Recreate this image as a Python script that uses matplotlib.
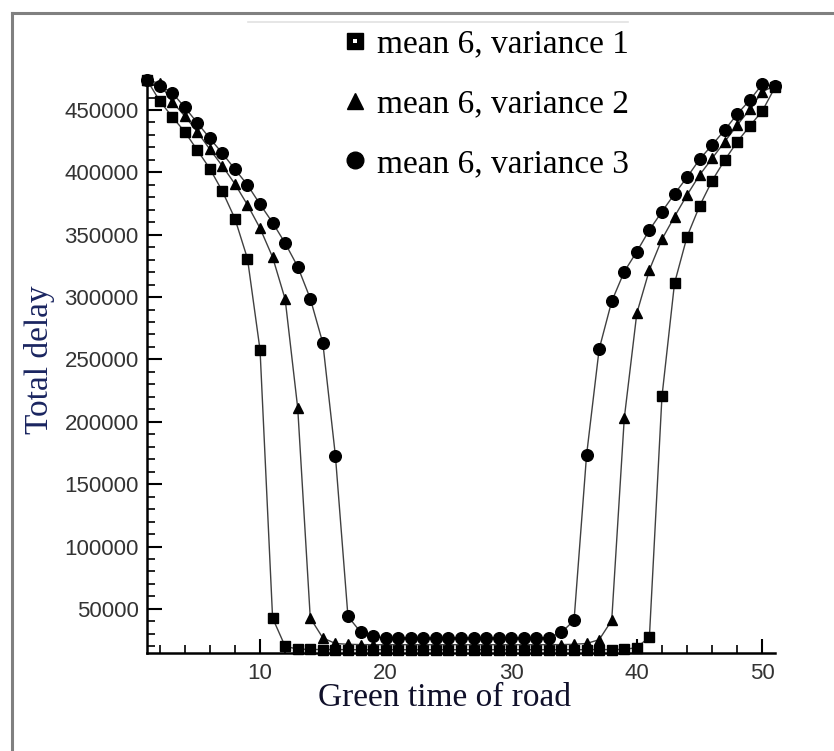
import matplotlib
matplotlib.use("Agg")
import matplotlib.pyplot as plt
from matplotlib.lines import Line2D
from matplotlib.legend_handler import HandlerTuple
from matplotlib.ticker import MultipleLocator, FixedLocator, FormatStrFormatter
import numpy as np

green_time = list(range(1, 52))

var1 = [474000, 457450, 444600, 432600, 417900, 403000, 384900, 362900, 330800, 257700,
        42700, 19950, 17800, 17500, 17400, 17400, 17300, 17300, 17300, 17300,
        17300, 17300, 17300, 17300, 17300, 17300, 17300, 17300, 17300, 17300,
        17300, 17300, 17300, 17300, 17300, 17300, 17400, 17400, 17500, 19000,
        27500, 220300, 311100, 348500, 373100, 393400, 409900, 424600, 437200, 449400,
        468200]

var2 = [474000, 471400, 456700, 445200, 432600, 418500, 405100, 390700, 373900, 355200,
        332000, 298300, 211000, 42700, 26700, 22300, 21600, 21400, 21300, 21300,
        21300, 21300, 21300, 21300, 21300, 21300, 21300, 21300, 21300, 21300,
        21300, 21300, 21300, 21400, 21600, 22300, 25300, 40800, 202900, 287100,
        321800, 346400, 364500, 381900, 397900, 411300, 424600, 438000, 450600, 464700,
        469500]

var3 = [474000, 469500, 463900, 452200, 439800, 427300, 415300, 402500, 389900, 374400,
        359700, 343200, 324400, 298800, 263100, 172800, 44000, 31500, 28000, 26800,
        26600, 26500, 26500, 26500, 26500, 26500, 26500, 26500, 26500, 26500,
        26500, 26600, 27000, 31200, 40800, 173600, 258300, 296600, 320400, 336500,
        353800, 368500, 382700, 396100, 410500, 422000, 434000, 446800, 458000, 470800,
        469000]

series_labels = ["mean 6, variance 1", "mean 6, variance 2", "mean 6, variance 3"]
x_ticks = [10, 20, 30, 40, 50]
y_ticks = [50000, 100000, 150000, 200000, 250000, 300000, 350000, 400000, 450000]

W, H = 834, 751
fig = plt.figure(figsize=(W / 100, H / 100), dpi=100)
fig.patch.set_facecolor("white")

def fx(px):
    return px / W

def fy(py):
    return 1 - py / H

ax = fig.add_axes([fx(147), fy(653), fx(775) - fx(147), fy(79) - fy(653)])
ax.set_facecolor("white")

line_kw = dict(color="#404040", linewidth=1.0, markerfacecolor="black",
               markeredgecolor="black", clip_on=False, zorder=3)
ax.plot(green_time, var1, marker="s", markersize=6.8, **line_kw)
ax.plot(green_time, var2, marker="^", markersize=7.0, **line_kw)
ax.plot(green_time, var3, marker="o", markersize=8.4, **line_kw)

ax.set_xlim(1, 51)
ax.set_ylim(14650, 474840)

for s in ["top", "right"]:
    ax.spines[s].set_visible(False)
for s in ["left", "bottom"]:
    ax.spines[s].set_linewidth(1.8)
    ax.spines[s].set_color("black")
    ax.spines[s].set_zorder(4)

ax.xaxis.set_major_locator(FixedLocator(x_ticks))
ax.xaxis.set_minor_locator(MultipleLocator(2))
ax.yaxis.set_major_locator(FixedLocator(y_ticks))
ax.yaxis.set_minor_locator(MultipleLocator(10000))
ax.yaxis.set_major_formatter(FormatStrFormatter("%d"))
ax.xaxis.set_major_formatter(FormatStrFormatter("%d"))

ax.tick_params(axis="both", which="major", direction="in", length=10, width=1.5,
               colors="black", labelcolor="#333333", pad=7, labelsize=16)
ax.tick_params(axis="both", which="minor", direction="in", length=5.5, width=1.2,
               colors="black")
ax.tick_params(axis="y", which="major", length=11, pad=6)
for lab in ax.get_xticklabels() + ax.get_yticklabels():
    lab.set_fontfamily("Liberation Sans")

ax.set_xlabel("Green time of road", fontfamily="Liberation Serif", fontsize=24,
              color="#10102a")
ax.xaxis.set_label_coords((445 - 147) / 628, (653 - 682) / 574)
ax.set_ylabel("Total delay", fontfamily="Liberation Serif", fontsize=24,
              color="#1a2560")
ax.yaxis.set_label_coords((40 - 147) / 628, (653 - 360) / 574)
ax.yaxis.label.set_va("center")

sq = Line2D([], [], linestyle="none", marker="s", markersize=11, color="black")
sq_dot = Line2D([], [], linestyle="none", marker="s", markersize=3,
                color="white", markeredgewidth=0)
handles = [
    (sq, sq_dot),
    Line2D([], [], linestyle="none", marker="^", markersize=12, color="black"),
    Line2D([], [], linestyle="none", marker="o", markersize=12, color="black"),
]
leg = ax.legend(handles, series_labels, loc="upper left",
                bbox_to_anchor=(fx(342), fy(29)), bbox_transform=fig.transFigure,
                frameon=False, borderpad=0, borderaxespad=0,
                handlelength=0.75, handletextpad=0.3, labelspacing=0.88,
                handler_map={tuple: HandlerTuple(ndivide=1)},
                prop={"family": "Liberation Serif", "size": 24})

# decorative page frame lines
fig.add_artist(Line2D([fx(12), fx(12)], [fy(13), 0], transform=fig.transFigure,
                      color="#808080", linewidth=2.2))
fig.add_artist(Line2D([fx(12), 1], [fy(13), fy(13)], transform=fig.transFigure,
                      color="#808080", linewidth=2.2))
fig.add_artist(Line2D([fx(248), fx(628)], [fy(22), fy(22)], transform=fig.transFigure,
                      color="#e2e2e2", linewidth=1.2))

fig.savefig("out.png", dpi=100, facecolor="white")
